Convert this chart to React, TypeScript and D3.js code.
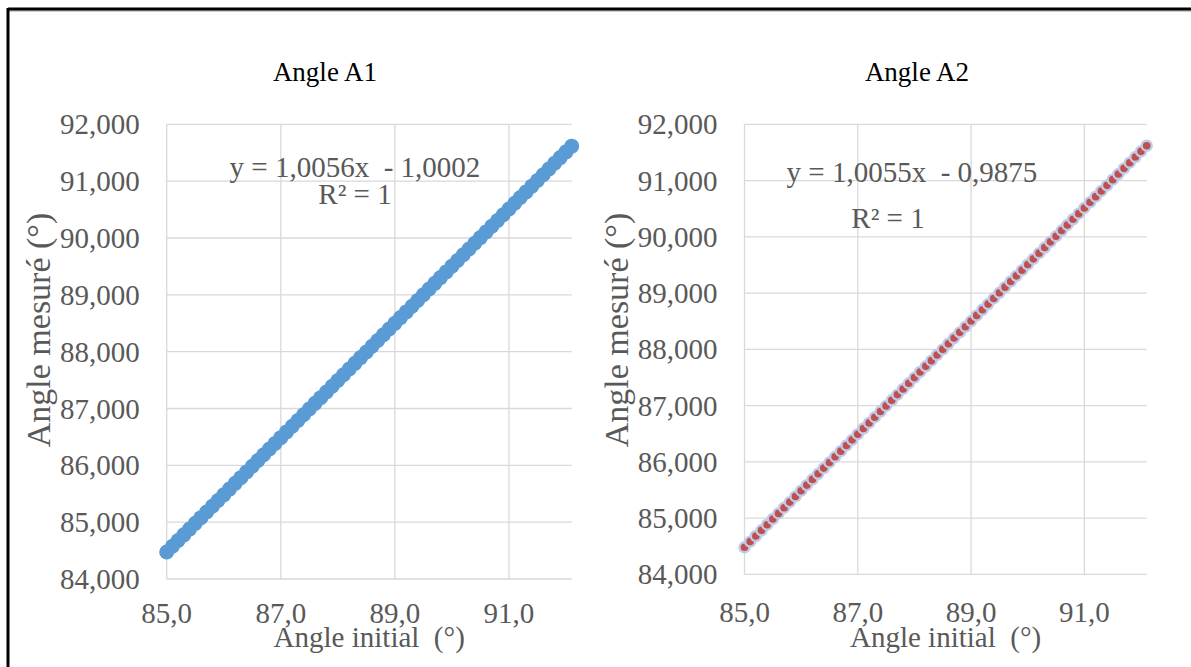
import { scaleLinear, formatLocale } from "d3";

// angle initial (°), same for both series
const angleInitial = [
  85.0, 85.1, 85.2, 85.3, 85.4, 85.5, 85.6, 85.7, 85.8, 85.9,
  86.0, 86.1, 86.2, 86.3, 86.4, 86.5, 86.6, 86.7, 86.8, 86.9,
  87.0, 87.1, 87.2, 87.3, 87.4, 87.5, 87.6, 87.7, 87.8, 87.9,
  88.0, 88.1, 88.2, 88.3, 88.4, 88.5, 88.6, 88.7, 88.8, 88.9,
  89.0, 89.1, 89.2, 89.3, 89.4, 89.5, 89.6, 89.7, 89.8, 89.9,
  90.0, 90.1, 90.2, 90.3, 90.4, 90.5, 90.6, 90.7, 90.8, 90.9,
  91.0, 91.1, 91.2, 91.3, 91.4, 91.5, 91.6, 91.7, 91.8, 91.9,
  92.0, 92.1,
];

// angle mesuré A1 (°)
const angleA1 = [
  84.476, 84.576, 84.677, 84.777, 84.878, 84.979, 85.079, 85.18, 85.28, 85.381,
  85.481, 85.582, 85.683, 85.783, 85.884, 85.984, 86.085, 86.185, 86.286, 86.386,
  86.487, 86.588, 86.688, 86.789, 86.889, 86.99, 87.09, 87.191, 87.291, 87.392,
  87.493, 87.593, 87.694, 87.794, 87.895, 87.995, 88.096, 88.197, 88.297, 88.398,
  88.498, 88.599, 88.699, 88.8, 88.9, 89.001, 89.102, 89.202, 89.303, 89.403,
  89.504, 89.604, 89.705, 89.805, 89.906, 90.007, 90.107, 90.208, 90.308, 90.409,
  90.509, 90.61, 90.711, 90.811, 90.912, 91.012, 91.113, 91.213, 91.314, 91.414,
  91.515, 91.616,
];

// angle mesuré A2 (°)
const angleA2 = [
  84.48, 84.581, 84.681, 84.782, 84.882, 84.983, 85.083, 85.184, 85.284, 85.385,
  85.486, 85.586, 85.687, 85.787, 85.888, 85.988, 86.089, 86.189, 86.29, 86.39,
  86.491, 86.592, 86.692, 86.793, 86.893, 86.994, 87.094, 87.195, 87.295, 87.396,
  87.497, 87.597, 87.698, 87.798, 87.899, 87.999, 88.1, 88.2, 88.301, 88.401,
  88.502, 88.603, 88.703, 88.804, 88.904, 89.005, 89.105, 89.206, 89.306, 89.407,
  89.508, 89.608, 89.709, 89.809, 89.91, 90.01, 90.111, 90.211, 90.312, 90.412,
  90.513, 90.614, 90.714, 90.815, 90.915, 91.016, 91.116, 91.217, 91.317, 91.418,
  91.519, 91.619,
];

const xTicks = [85, 87, 89, 91];
const yTicks = [84, 85, 86, 87, 88, 89, 90, 91, 92];
const xDomain = [85, 92.1];
const yDomain = [84, 92];

const fr = formatLocale({ decimal: ",", thousands: " ", grouping: [3], currency: ["", " €"] });
const fmtY = fr.format(".3f");
const fmtX = fr.format(".1f");

const FONT = "'Liberation Serif', 'Times New Roman', serif";
const GREY = "#595959";
const GRID = "#d9d9d9";

type PanelProps = {
  title: string;
  equation: string;
  values: number[];
  left: number;
  right: number;
  top: number;
  bottom: number;
  titleX: number;
  eqX: number;
  eqY: number;
  r2X: number;
  r2Y: number;
  yTitleX: number;
  xLabelY: number;
  red?: boolean;
};

function Panel(p: PanelProps) {
  const x = scaleLinear().domain(xDomain).range([p.left, p.right]);
  const y = scaleLinear().domain(yDomain).range([p.bottom, p.top]);

  return (
    <g fontFamily={FONT}>
      <text x={p.titleX} y={81} textAnchor="middle" fontSize={27} fill="#000">
        {p.title}
      </text>

      {yTicks.map((t) => (
        <line key={"gy" + t} x1={p.left} x2={p.right} y1={y(t)} y2={y(t)} stroke={GRID} strokeWidth={1.3} />
      ))}
      {xTicks.map((t) => (
        <line key={"gx" + t} x1={x(t)} x2={x(t)} y1={p.top} y2={p.bottom} stroke={GRID} strokeWidth={1.3} />
      ))}

      {yTicks.map((t) => (
        <text key={"ly" + t} x={p.left - 27} y={y(t)} dy="0.35em" textAnchor="end" fontSize={29} fill={GREY}>
          {fmtY(t)}
        </text>
      ))}
      {xTicks.map((t) => (
        <text key={"lx" + t} x={x(t)} y={p.xLabelY} textAnchor="middle" fontSize={29} fill={GREY}>
          {fmtX(t)}
        </text>
      ))}

      <text x={(p.left + p.right) / 2} y={647} textAnchor="middle" fontSize={29} fill={GREY} style={{ whiteSpace: "pre" }}>
        {"Angle initial  (°)"}
      </text>
      <text
        transform={`translate(${p.yTitleX},330) rotate(-90)`}
        textAnchor="middle"
        fontSize={34}
        fill={GREY}
      >
        Angle mesuré (°)
      </text>

      {angleInitial.map((v, i) =>
        p.red ? (
          <circle key={i} cx={x(v)} cy={y(p.values[i])} r={5} fill="#c0504d" stroke="#bfcbe8" strokeWidth={2.4} />
        ) : (
          <circle key={i} cx={x(v)} cy={y(p.values[i])} r={7.5} fill="#5b9bd5" />
        )
      )}

      <text x={p.eqX} y={p.eqY} textAnchor="middle" fontSize={29} fill={GREY} style={{ whiteSpace: "pre" }}>
        {p.equation}
      </text>
      <text x={p.r2X} y={p.r2Y} textAnchor="middle" fontSize={29} fill={GREY}>
        R² = 1
      </text>
    </g>
  );
}

export default function App() {
  return (
    <svg
      width={1191}
      height={667}
      style={{ position: "absolute", left: 0, top: 0, background: "#fff" }}
    >
      <rect x={0} y={0} width={1191} height={667} fill="#fff" />
      <line x1={8} x2={1191} y1={11} y2={11} stroke="#9a9a9a" strokeWidth={1} />
      <line x1={8} x2={1191} y1={9} y2={9} stroke="#000" strokeWidth={3} />
      <line x1={8} x2={8} y1={8} y2={667} stroke="#000" strokeWidth={3} />

      <Panel
        title="Angle A1"
        equation="y = 1,0056x  - 1,0002"
        values={angleA1}
        left={166.7}
        right={571.7}
        top={124.3}
        bottom={579}
        titleX={325}
        eqX={355}
        eqY={177}
        r2X={355}
        r2Y={204}
        yTitleX={50}
        xLabelY={623}
      />
      <Panel
        title="Angle A2"
        equation="y = 1,0055x  - 0,9875"
        values={angleA2}
        left={744.5}
        right={1146.7}
        top={124.3}
        bottom={574.3}
        titleX={917}
        eqX={912}
        eqY={182}
        r2X={888}
        r2Y={228}
        yTitleX={628}
        xLabelY={622}
        red
      />
    </svg>
  );
}
